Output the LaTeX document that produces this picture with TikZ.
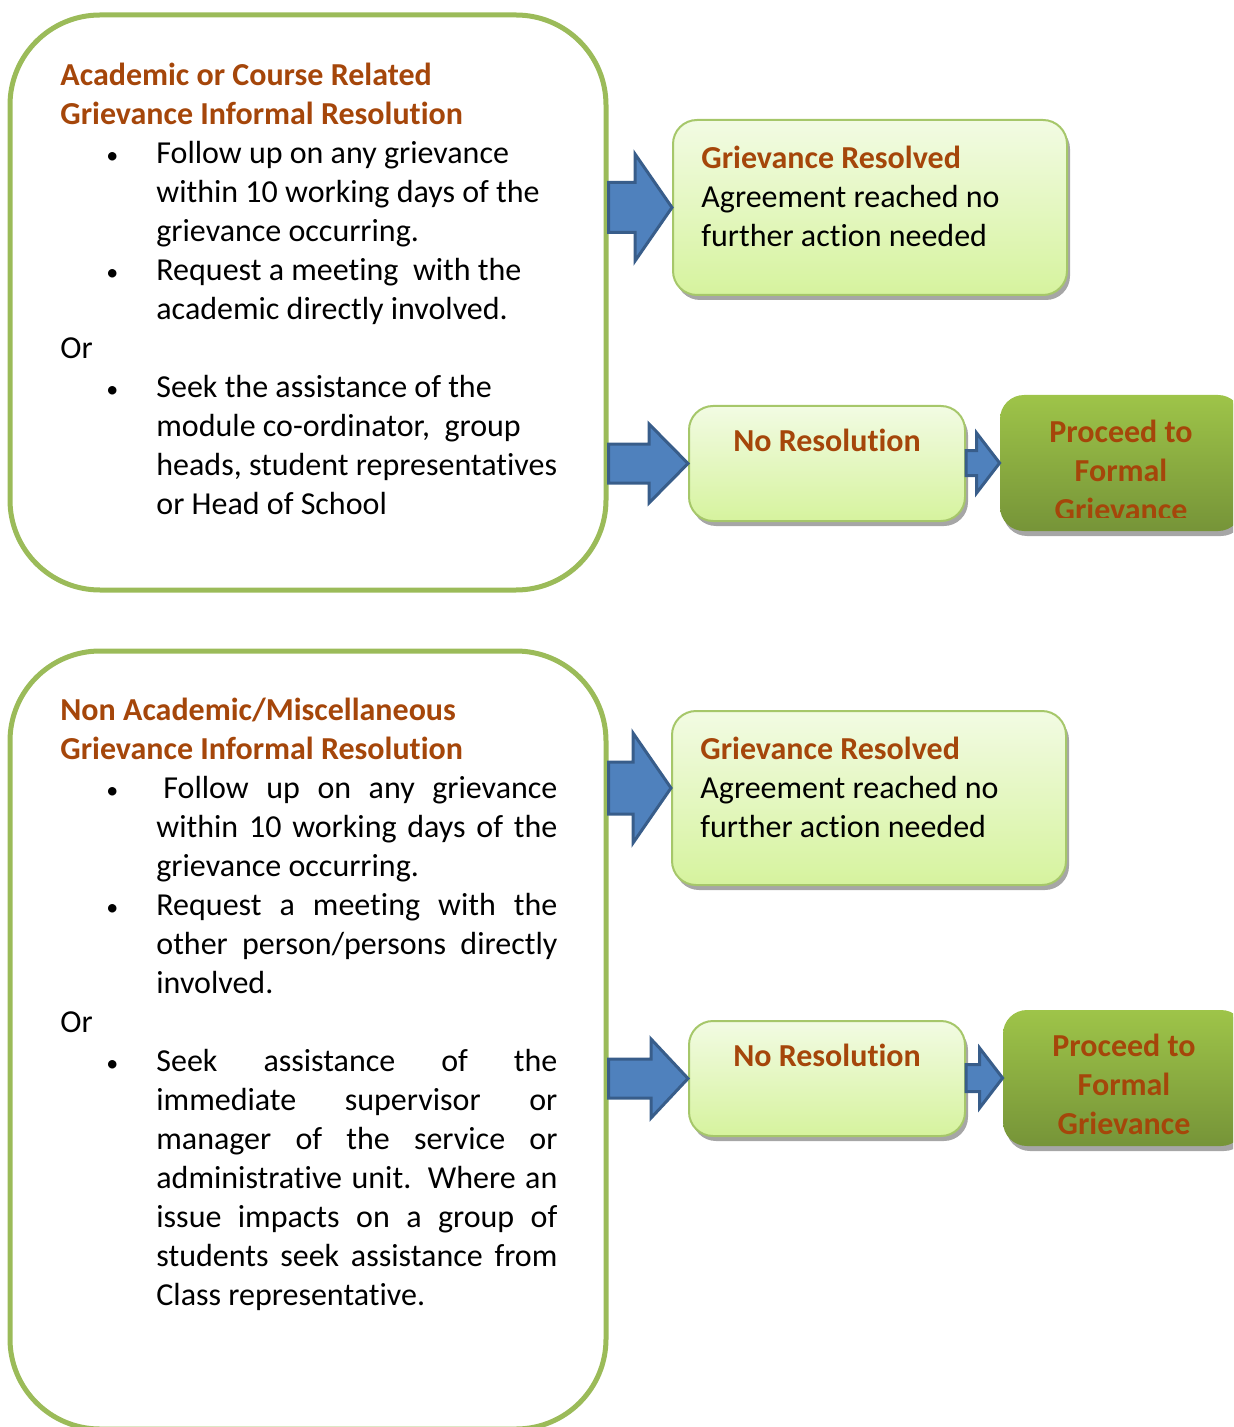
\documentclass[tikz,border=0pt]{standalone}
\usepackage{fontspec}
\setmainfont{Carlito}[Ligatures=NoCommon]
\usetikzlibrary{positioning,calc,shadows}

\definecolor{titlebrown}{HTML}{A5460A}
\definecolor{olive}{HTML}{9BBB59}
\definecolor{paletop}{HTML}{F2FBE3}
\definecolor{palebottom}{HTML}{D6F39E}
\definecolor{paleedge}{HTML}{A6C76A}
\definecolor{formaltop}{HTML}{9EC449}
\definecolor{formalbottom}{HTML}{769438}
\definecolor{arrowblue}{HTML}{4F81BD}
\definecolor{arrowedge}{HTML}{385D8A}

\tikzset{
  every node/.style={font=\fontsize{16}{19.5}\selectfont, inner sep=0pt},
  heading/.style={font=\fontsize{16}{19.5}\selectfont\bfseries, text=titlebrown},
  bigbox/.style={rectangle, draw=olive, line width=2.5pt, rounded corners=45pt},
  resbox/.style={rectangle, draw=paleedge, line width=1pt, rounded corners=12pt,
    top color=paletop, bottom color=palebottom,
    drop shadow={shadow xshift=1.5pt, shadow yshift=-2.5pt, fill=black, opacity=0.35}},
  formalbox/.style={rectangle, rounded corners=12pt, top color=formaltop, bottom color=formalbottom,
    drop shadow={shadow xshift=1.5pt, shadow yshift=-2.5pt, fill=black, opacity=0.35}},
  blockarr/.style={fill=arrowblue, draw=arrowedge, line width=1.5pt, line join=miter},
}

% bullet paragraph with hanging indent
\newcommand{\bulletpar}[1]{\par\hangindent=48pt\hangafter=0\noindent
  \llap{{\fontsize{12}{12}\selectfont\textbullet}\hspace{19pt}}#1\par}
% block arrow: from, tip, shaft half, head half, head length
\newcommand{\blockarrow}[5]{%
  \draw[blockarr] let \p1=(#1), \p2=(#2) in
    (\x1,\y2+#3) -- (\x2-#5,\y2+#3) -- (\x2-#5,\y2+#4) -- (\p2)
    -- (\x2-#5,\y2-#4) -- (\x2-#5,\y2-#3) -- (\x1,\y2-#3) -- cycle;}

\begin{document}
\begin{tikzpicture}[x=0.5pt, y=-0.5pt]
\clip (0,0) rectangle (1233,1427);

% left boxes
\node[bigbox, minimum width=298pt, minimum height=287.5pt] (acad) at (308,302.5) {};
\node[bigbox, minimum width=298pt, minimum height=389pt] (naca) at (308,1040) {};

\node[anchor=north west, text width=252pt, align=left] (acadtxt) at (60,63) {%
  \parindent=0pt \spaceskip=0pt \xspaceskip=0pt
  \textcolor{titlebrown}{\bfseries Academic or Course Related\newline Grievance Informal Resolution}\par
  \bulletpar{Follow up on any grievance\newline within 10 working days of the\newline grievance occurring.}
  \bulletpar{Request a meeting\ \ with the\newline academic directly involved.}
  \noindent Or\par
  \bulletpar{Seek the assistance of the\newline module co-ordinator,\ \ group\newline heads, student representatives\newline or Head of School}
};

\node[anchor=north west, text width=248.5pt, align=justify] (nacatxt) at (60,698) {%
  \parindent=0pt \tolerance=10000
  \textcolor{titlebrown}{\bfseries Non Academic/Miscellaneous\newline Grievance Informal Resolution}\par
  \bulletpar{\hspace{3.5pt}Follow up on any grievance\linebreak within 10 working days of the\linebreak grievance occurring.}
  \bulletpar{Request a meeting with the\linebreak other person/persons directly\linebreak involved.}
  \noindent Or\par
  \bulletpar{Seek assistance of the\linebreak immediate supervisor or\linebreak manager of the service or\linebreak administrative unit. Where an\linebreak issue impacts on a group of\linebreak students seek assistance from\linebreak Class representative.}
};

% upper row
\node[resbox, minimum width=197pt, minimum height=87.5pt] (res1) at (870,207.5) {};
\node[align=left, below right=13.5pt and 14.5pt of res1.north west] (res1txt)
  {\textcolor{titlebrown}{\bfseries Grievance Resolved}\\ Agreement reached no\\ further action needed};
\node[resbox, minimum width=138pt, minimum height=57.5pt] (nores1) at (827,463.5) {};
\node[heading, below=12pt of nores1.north] (nores1txt) {No Resolution};
\node[formalbox, minimum width=121pt, minimum height=68pt] (formal1) at (1121,463) {};
\begin{scope}
  \clip (990,390) rectangle (1250,517);
  \node[heading, align=center, below=12.5pt of formal1.north] (formal1txt) {Proceed to\\Formal\\Grievance};
\end{scope}

% lower row
\node[resbox, minimum width=197pt, minimum height=87pt] (res2) at (869,798) {};
\node[align=left, below right=13.5pt and 14.5pt of res2.north west] (res2txt)
  {\textcolor{titlebrown}{\bfseries Grievance Resolved}\\ Agreement reached no\\ further action needed};
\node[resbox, minimum width=138pt, minimum height=57.5pt] (nores2) at (827,1078.5) {};
\node[heading, below=12pt of nores2.north] (nores2txt) {No Resolution};
\node[formalbox, minimum width=121pt, minimum height=68pt] (formal2) at (1124,1078) {};
\node[heading, align=center, below=12pt of formal2.north] (formal2txt) {Proceed to\\Formal\\Grievance};

% arrows
\blockarrow{acad.east}{res1.west}{12.5pt}{26.75pt}{18.5pt}
\blockarrow{acad.east}{nores1.west}{9.75pt}{19.75pt}{19.5pt}
\blockarrow{nores1.east}{formal1.west}{6.25pt}{15pt}{11.5pt}
\blockarrow{naca.east}{[yshift=5pt]res2.west}{13pt}{27.5pt}{19pt}
\blockarrow{naca.east}{nores2.west}{9.75pt}{19.75pt}{18.5pt}
\blockarrow{nores2.east}{formal2.west}{6.75pt}{15pt}{11.5pt}
\end{tikzpicture}
\end{document}
